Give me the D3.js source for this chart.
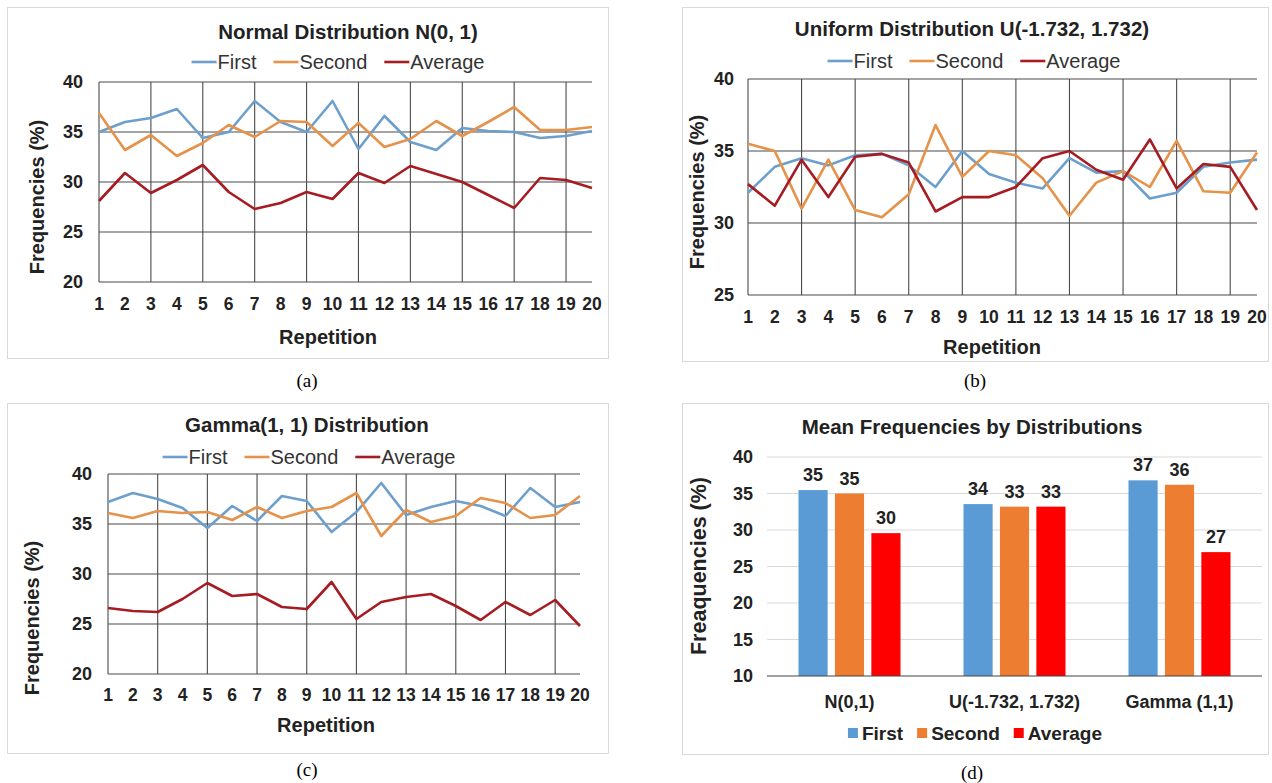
<!DOCTYPE html>
<html>
<head>
<meta charset="utf-8">
<script src="https://cdn.jsdelivr.net/npm/d3@7"></script>
<style>
  body { margin: 0; background: #fff; }
  svg { display: block; font-family: Arial, "Liberation Sans", sans-serif; }
</style>
</head>
<body>
<div id="chart"></div>
<script>
// data
var reps = [1, 2, 3, 4, 5, 6, 7, 8, 9, 10, 11, 12, 13, 14, 15, 16, 17, 18, 19, 20];
var seriesNames = ['First', 'Second', 'Average'];

var normalFirst   = [35.0, 36.0, 36.4, 37.3, 34.4, 35.0, 38.1, 36.0, 35.0, 38.1, 33.3, 36.6, 34.0, 33.2, 35.4, 35.1, 35.0, 34.4, 34.6, 35.1];
var normalSecond  = [36.9, 33.2, 34.7, 32.6, 33.9, 35.7, 34.5, 36.1, 36.0, 33.6, 35.9, 33.5, 34.3, 36.1, 34.6, 36.0, 37.5, 35.2, 35.2, 35.5];
var normalAverage = [28.1, 30.9, 28.9, 30.2, 31.7, 29.0, 27.3, 27.9, 29.0, 28.3, 30.9, 29.9, 31.6, 30.8, 30.0, 28.7, 27.4, 30.4, 30.2, 29.4];

var uniformFirst   = [32.1, 33.9, 34.5, 34.0, 34.7, 34.8, 34.0, 32.5, 35.0, 33.4, 32.8, 32.4, 34.5, 33.5, 33.6, 31.7, 32.1, 33.9, 34.2, 34.4];
var uniformSecond  = [35.5, 35.0, 31.0, 34.4, 30.9, 30.4, 32.0, 36.8, 33.2, 35.0, 34.7, 33.1, 30.5, 32.8, 33.6, 32.5, 35.7, 32.2, 32.1, 34.9];
var uniformAverage = [32.7, 31.2, 34.4, 31.8, 34.6, 34.8, 34.2, 30.8, 31.8, 31.8, 32.5, 34.5, 35.0, 33.7, 33.0, 35.8, 32.4, 34.1, 33.9, 30.9];

var gammaFirst   = [37.2, 38.1, 37.5, 36.6, 34.6, 36.8, 35.3, 37.8, 37.3, 34.2, 36.2, 39.1, 35.9, 36.7, 37.3, 36.8, 35.8, 38.6, 36.7, 37.2];
var gammaSecond  = [36.1, 35.6, 36.3, 36.1, 36.2, 35.4, 36.7, 35.6, 36.3, 36.7, 38.1, 33.8, 36.4, 35.2, 35.8, 37.6, 37.1, 35.6, 35.9, 37.8];
var gammaAverage = [26.6, 26.3, 26.2, 27.5, 29.1, 27.8, 28.0, 26.7, 26.5, 29.2, 25.5, 27.2, 27.7, 28.0, 26.8, 25.4, 27.2, 25.9, 27.4, 24.8];

var meanCategories = ['N(0,1)', 'U(-1.732, 1.732)', 'Gamma (1,1)'];
var meanFirst   = [35.47, 33.55, 36.8];
var meanSecond  = [35.0, 33.2, 36.2];
var meanAverage = [29.57, 33.2, 26.97];

var ticksNormal = [20, 25, 30, 35, 40];
var ticksUniform = [25, 30, 35, 40];
var ticksMean = [10, 15, 20, 25, 30, 35, 40];

var lineColors = ['#6d9fcc', '#e5924a', '#a51c22'];
var barColors = ['#5b9bd5', '#ed7d31', '#ff0000'];

var svg = d3.select('#chart').append('svg')
    .attr('width', 1272)
    .attr('height', 783);

// panel frames
var frames = [[7, 7, 601, 351], [682, 7, 586, 354], [7, 403, 601, 350], [682, 403, 586, 351]];
svg.selectAll('rect.frame').data(frames).enter().append('rect')
    .attr('class', 'frame')
    .attr('x', d => d[0] + 0.5).attr('y', d => d[1] + 0.5)
    .attr('width', d => d[2]).attr('height', d => d[3])
    .attr('fill', 'none').attr('stroke', '#d9d9d9');

// captions (a)..(d)
var captions = [['(a)', 307, 387], ['(b)', 975, 387], ['(c)', 307, 776], ['(d)', 972, 779]];
svg.selectAll('text.cap').data(captions).enter().append('text')
    .attr('x', d => d[1]).attr('y', d => d[2])
    .attr('text-anchor', 'middle')
    .style('font-family', '"Liberation Serif", "Times New Roman", serif')
    .style('font-size', '19px')
    .text(d => d[0]);

function drawLinePanel(cfg) {
    var x = d3.scaleLinear().domain([1, 20]).range([cfg.left, cfg.right]);
    var y = d3.scaleLinear().domain([cfg.ticks[0], cfg.ticks[cfg.ticks.length - 1]]).range([cfg.bottom, cfg.top]);
    var g = svg.append('g');

    // vertical grid at odd repetitions
    g.selectAll('line.vg').data(reps.filter(r => r % 2 == 1)).enter().append('line')
        .attr('x1', d => x(d)).attr('x2', d => x(d))
        .attr('y1', cfg.top).attr('y2', cfg.bottom)
        .attr('stroke', '#4a4a4a').attr('stroke-width', 1.1);

    // horizontal grid
    g.selectAll('line.hg').data(cfg.ticks).enter().append('line')
        .attr('x1', cfg.left).attr('x2', cfg.right)
        .attr('y1', d => y(d)).attr('y2', d => y(d))
        .attr('stroke', '#4a4a4a').attr('stroke-width', 1.1);

    // y tick labels
    g.selectAll('text.yt').data(cfg.ticks).enter().append('text')
        .attr('x', cfg.yLabelX).attr('y', d => y(d))
        .attr('dy', '0.36em').attr('text-anchor', 'end')
        .style('font-size', '18px').style('font-weight', 'bold').style('fill', '#222')
        .text(d => d);

    // x tick labels
    g.selectAll('text.xt').data(reps).enter().append('text')
        .attr('x', d => x(d)).attr('y', cfg.xLabelY)
        .attr('dy', '0.36em').attr('text-anchor', 'middle')
        .style('font-size', '17.5px').style('font-weight', 'bold').style('fill', '#222')
        .text(d => d);

    // series lines
    var line = d3.line().x((d, i) => x(reps[i])).y(d => y(d));
    cfg.series.forEach((s, i) => {
        g.append('path').datum(s)
            .attr('d', line)
            .attr('fill', 'none')
            .attr('stroke', lineColors[i])
            .attr('stroke-width', 2.6)
            .attr('stroke-linejoin', 'round');
    });

    // title
    g.append('text').attr('x', cfg.titleX).attr('y', cfg.titleY)
        .attr('dy', '0.36em').attr('text-anchor', 'middle')
        .style('font-size', '20.5px').style('font-weight', 'bold').style('fill', '#222')
        .text(cfg.title);

    // axis titles
    g.append('text').attr('x', cfg.xTitleX).attr('y', cfg.xTitleY)
        .attr('dy', '0.36em').attr('text-anchor', 'middle')
        .style('font-size', '20px').style('font-weight', 'bold').style('fill', '#222')
        .text('Repetition');
    g.append('text')
        .attr('transform', `translate(${cfg.yTitleX}, ${cfg.yTitleY}) rotate(-90)`)
        .attr('dy', '0.36em').attr('text-anchor', 'middle')
        .style('font-size', '20px').style('font-weight', 'bold').style('fill', '#222')
        .text('Frequencies (%)');

    // legend
    var leg = g.append('g');
    var pos = 0;
    seriesNames.forEach((name, i) => {
        leg.append('line')
            .attr('x1', pos).attr('x2', pos + 25)
            .attr('y1', 0).attr('y2', 0)
            .attr('stroke', lineColors[i]).attr('stroke-width', 2.6);
        var t = leg.append('text').attr('x', pos + 26).attr('y', 0)
            .attr('dy', '0.36em')
            .style('font-size', '20px').style('fill', '#333')
            .text(name);
        pos += 26 + t.node().getComputedTextLength() + 17;
    });
    var legWidth = pos - 17;
    leg.attr('transform', `translate(${cfg.legendX - legWidth / 2}, ${cfg.legendY})`);
}

drawLinePanel({
    left: 99, right: 592, top: 82, bottom: 282, ticks: ticksNormal,
    series: [normalFirst, normalSecond, normalAverage],
    title: 'Normal Distribution N(0, 1)', titleX: 348, titleY: 32,
    legendX: 338, legendY: 62,
    yLabelX: 83, xLabelY: 304, xTitleX: 328, xTitleY: 337,
    yTitleX: 37, yTitleY: 197
});

drawLinePanel({
    left: 748, right: 1257, top: 79, bottom: 295, ticks: ticksUniform,
    series: [uniformFirst, uniformSecond, uniformAverage],
    title: 'Uniform Distribution U(-1.732, 1.732)', titleX: 972, titleY: 29,
    legendX: 974, legendY: 61,
    yLabelX: 734, xLabelY: 317, xTitleX: 992, xTitleY: 347,
    yTitleX: 697, yTitleY: 192
});

drawLinePanel({
    left: 108, right: 580, top: 474, bottom: 674, ticks: ticksNormal,
    series: [gammaFirst, gammaSecond, gammaAverage],
    title: 'Gamma(1, 1) Distribution', titleX: 307, titleY: 425,
    legendX: 309, legendY: 457,
    yLabelX: 92, xLabelY: 695, xTitleX: 326, xTitleY: 725,
    yTitleX: 32, yTitleY: 618
});

// bar panel (d)
(function() {
    var left = 767, right = 1262, top = 457, bottom = 676;
    var x0 = d3.scaleBand().domain(meanCategories).range([left, right]);
    var x1 = d3.scaleBand().domain(seriesNames).range([0, 102]).paddingInner(0.2);
    var y = d3.scaleLinear().domain([10, 40]).range([bottom, top]);
    var g = svg.append('g');

    g.selectAll('line.hg').data(ticksMean.slice(1)).enter().append('line')
        .attr('x1', left).attr('x2', right)
        .attr('y1', d => y(d)).attr('y2', d => y(d))
        .attr('stroke', '#d9d9d9').attr('stroke-width', 1);

    var values = [meanFirst, meanSecond, meanAverage];
    var groups = g.selectAll('g.grp').data(meanCategories).enter().append('g')
        .attr('transform', d => `translate(${x0(d) + x0.bandwidth() / 2 - 51}, 0)`);

    groups.each(function(cat, ci) {
        var grp = d3.select(this);
        seriesNames.forEach((s, si) => {
            var v = values[si][ci];
            grp.append('rect')
                .attr('x', x1(s)).attr('y', y(v))
                .attr('width', x1.bandwidth()).attr('height', y(10) - y(v))
                .attr('fill', barColors[si]);
            grp.append('text')
                .attr('x', x1(s) + x1.bandwidth() / 2).attr('y', y(v) - 9)
                .attr('text-anchor', 'middle')
                .style('font-family', '"Liberation Sans Narrow", "Arial Narrow", Arial, sans-serif')
                .style('font-size', '18px').style('font-weight', 'bold').style('fill', '#222')
                .text(Math.round(v));
        });
    });

    g.append('line')
        .attr('x1', left).attr('x2', right)
        .attr('y1', y(10)).attr('y2', y(10))
        .attr('stroke', '#444').attr('stroke-width', 1.2);

    g.selectAll('text.yt').data(ticksMean).enter().append('text')
        .attr('x', 753).attr('y', d => y(d))
        .attr('dy', '0.36em').attr('text-anchor', 'end')
        .style('font-size', '18px').style('font-weight', 'bold').style('fill', '#222')
        .text(d => d);

    g.selectAll('text.xt').data(meanCategories).enter().append('text')
        .attr('x', d => x0(d) + x0.bandwidth() / 2).attr('y', 702)
        .attr('dy', '0.36em').attr('text-anchor', 'middle')
        .style('font-size', '18px').style('font-weight', 'bold').style('fill', '#222')
        .text(d => d);

    g.append('text').attr('x', 972).attr('y', 427)
        .attr('dy', '0.36em').attr('text-anchor', 'middle')
        .style('font-size', '20.5px').style('font-weight', 'bold').style('fill', '#222')
        .text('Mean Frequencies by Distributions');

    g.append('text')
        .attr('transform', 'translate(698, 566) rotate(-90)')
        .attr('dy', '0.36em').attr('text-anchor', 'middle')
        .style('font-size', '21.5px').style('font-weight', 'bold').style('fill', '#222')
        .text('Freaquencies (%)');

    var leg = g.append('g');
    var pos = 0;
    seriesNames.forEach((name, i) => {
        leg.append('rect')
            .attr('x', pos).attr('y', -5).attr('width', 10).attr('height', 10)
            .attr('fill', barColors[i]);
        var t = leg.append('text').attr('x', pos + 14).attr('y', 0)
            .attr('dy', '0.36em')
            .style('font-size', '19px').style('font-weight', 'bold').style('fill', '#222')
            .text(name);
        pos += 14 + t.node().getComputedTextLength() + 14;
    });
    leg.attr('transform', `translate(${975 - (pos - 14) / 2}, 733)`);
})();
</script>
</body>
</html>
